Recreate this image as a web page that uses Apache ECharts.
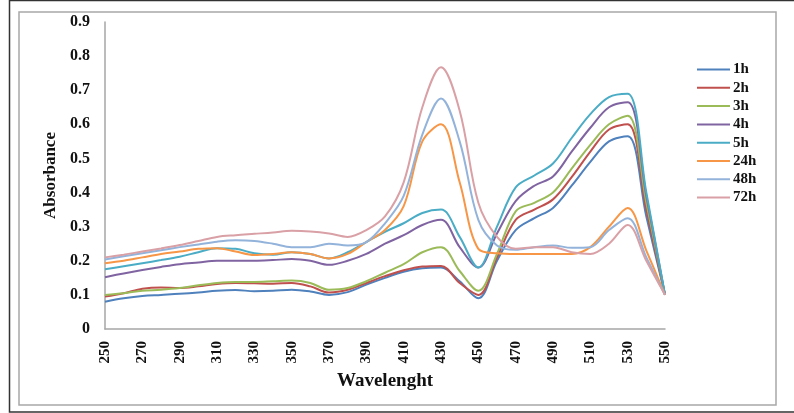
<!DOCTYPE html>
<html>
<head>
<meta charset="utf-8">
<script src="https://cdn.jsdelivr.net/npm/echarts@6/dist/echarts.min.js"></script>
<style>
  html, body { margin: 0; padding: 0; background: #fff; }
  #grafica { width: 794px; height: 413px; }
</style>
</head>
<body>
<div id="grafica"></div>
<script>
// longitudes de onda (nm)
const wavelengths = ['250','260','270','280','290','300','310','320','330','340','350','360','370','380','390','400',
  '410','420','430','440','450','460','470','480','490','500','510','520','530','540','550'];

const yTicks = [0, 0.9, 0.1]; // min, max, intervalo

const h1 = [0.08, 0.09, 0.097, 0.1, 0.103, 0.107, 0.112, 0.114, 0.111, 0.112, 0.115, 0.11, 0.1, 0.108, 0.13, 0.15,
  0.168, 0.178, 0.18, 0.14, 0.09, 0.2, 0.29, 0.325, 0.355, 0.42, 0.49, 0.55, 0.565, 0.33, 0.1];
const h2 = [0.095, 0.105, 0.118, 0.122, 0.12, 0.125, 0.132, 0.135, 0.134, 0.133, 0.135, 0.125, 0.107, 0.115, 0.135, 0.155,
  0.172, 0.183, 0.185, 0.135, 0.1, 0.21, 0.32, 0.35, 0.38, 0.445, 0.52, 0.585, 0.6, 0.35, 0.1];
const h3 = [0.1, 0.105, 0.112, 0.115, 0.12, 0.128, 0.135, 0.138, 0.138, 0.14, 0.142, 0.135, 0.115, 0.12, 0.14, 0.165,
  0.19, 0.225, 0.24, 0.17, 0.112, 0.22, 0.345, 0.37, 0.4, 0.47, 0.54, 0.6, 0.625, 0.37, 0.1];
const h4 = [0.152, 0.163, 0.173, 0.182, 0.19, 0.195, 0.2, 0.2, 0.2, 0.202, 0.205, 0.2, 0.188, 0.2, 0.22, 0.25,
  0.275, 0.305, 0.32, 0.24, 0.18, 0.28, 0.375, 0.42, 0.447, 0.52, 0.59, 0.65, 0.665, 0.39, 0.1];
const h5 = [0.175, 0.184, 0.193, 0.202, 0.212, 0.225, 0.237, 0.235, 0.222, 0.218, 0.225, 0.22, 0.207, 0.225, 0.255, 0.285,
  0.31, 0.34, 0.35, 0.27, 0.18, 0.3, 0.415, 0.45, 0.485, 0.56, 0.63, 0.68, 0.69, 0.4, 0.1];
const h24 = [0.193, 0.2, 0.21, 0.22, 0.227, 0.235, 0.237, 0.227, 0.217, 0.22, 0.225, 0.22, 0.207, 0.22, 0.255, 0.29,
  0.36, 0.55, 0.6, 0.43, 0.235, 0.222, 0.22, 0.22, 0.22, 0.22, 0.24, 0.3, 0.355, 0.23, 0.1];
const h48 = [0.204, 0.213, 0.222, 0.231, 0.24, 0.248, 0.256, 0.26, 0.258, 0.25, 0.24, 0.24, 0.25, 0.245, 0.255, 0.31,
  0.39, 0.57, 0.676, 0.55, 0.32, 0.245, 0.232, 0.24, 0.245, 0.238, 0.24, 0.29, 0.325, 0.21, 0.1];
const h72 = [0.21, 0.218, 0.227, 0.236, 0.246, 0.258, 0.27, 0.275, 0.279, 0.283, 0.288, 0.286, 0.28, 0.27, 0.29, 0.33,
  0.43, 0.65, 0.767, 0.64, 0.37, 0.27, 0.235, 0.24, 0.24, 0.225, 0.22, 0.25, 0.305, 0.2, 0.1];

const seriesNames = ['1h', '2h', '3h', '4h', '5h', '24h', '48h', '72h'];
const seriesData = [h1, h2, h3, h4, h5, h24, h48, h72];
const colores = ['#4F81BD', '#C0504D', '#9BBB59', '#8064A2', '#4BACC6', '#F79646', '#93B3DB', '#D9A0A6'];

const fuente = '"Liberation Serif", "Times New Roman", serif';

const getOptions = () => {
  return {
    animation: false,
    color: colores,
    textStyle: { fontFamily: fuente },
    grid: {
      left: 105,
      right: 129,
      top: 22,
      bottom: 84
    },
    legend: {
      orient: 'vertical',
      left: 692,
      top: 57,
      icon: 'rect',
      itemWidth: 33,
      itemHeight: 2,
      itemGap: 3.3,
      data: seriesNames,
      textStyle: { fontFamily: fuente, fontWeight: 'bold', fontSize: 15, color: '#111', padding: [0, 0, 0, -2] }
    },
    xAxis: {
      type: 'category',
      boundaryGap: false,
      data: wavelengths,
      name: 'Wavelenght',
      nameLocation: 'middle',
      nameGap: 38,
      nameTextStyle: { fontFamily: fuente, fontWeight: 'bold', fontSize: 19, color: '#111' },
      axisLine: { lineStyle: { color: '#a6a6a6', width: 1.5 } },
      axisTick: { show: false },
      axisLabel: {
        interval: 1,
        rotate: 90,
        margin: 12,
        fontFamily: fuente,
        fontWeight: 'bold',
        fontSize: 15,
        color: '#111'
      },
      splitLine: { show: false }
    },
    yAxis: {
      type: 'value',
      min: yTicks[0],
      max: yTicks[1],
      interval: yTicks[2],
      name: 'Absorbance',
      nameLocation: 'middle',
      nameGap: 41,
      nameTextStyle: { fontFamily: fuente, fontWeight: 'bold', fontSize: 17, color: '#111' },
      axisLine: { show: true, lineStyle: { color: '#a6a6a6', width: 1.5 } },
      axisTick: { show: false },
      axisLabel: {
        margin: 15,
        fontFamily: fuente,
        fontWeight: 'bold',
        fontSize: 16,
        color: '#111',
        formatter: v => (v === 0 ? '0' : v.toFixed(1))
      },
      splitLine: { show: false }
    },
    series: seriesNames.map((nombre, i) => ({
      name: nombre,
      type: 'line',
      data: seriesData[i],
      smooth: 0.35,
      symbol: 'none',
      lineStyle: { width: 2 }
    })),
    graphic: [
      {
        type: 'rect',
        shape: { x: 19, y: 12, width: 757, height: 393 },
        style: { fill: 'none', stroke: '#a8a8a8', lineWidth: 1.5 }
      },
      {
        type: 'polyline',
        shape: { points: [[794, 0.5], [9.5, 0.5], [9.5, 412], [794, 412]] },
        style: { fill: 'none', stroke: '#333', lineWidth: 1.5 }
      }
    ]
  };
};

const initCharts = () => {
  const grafica = echarts.init(document.getElementById('grafica'));
  grafica.setOption(getOptions());
};

window.addEventListener('load', () => {
  initCharts();
});
</script>
</body>
</html>
